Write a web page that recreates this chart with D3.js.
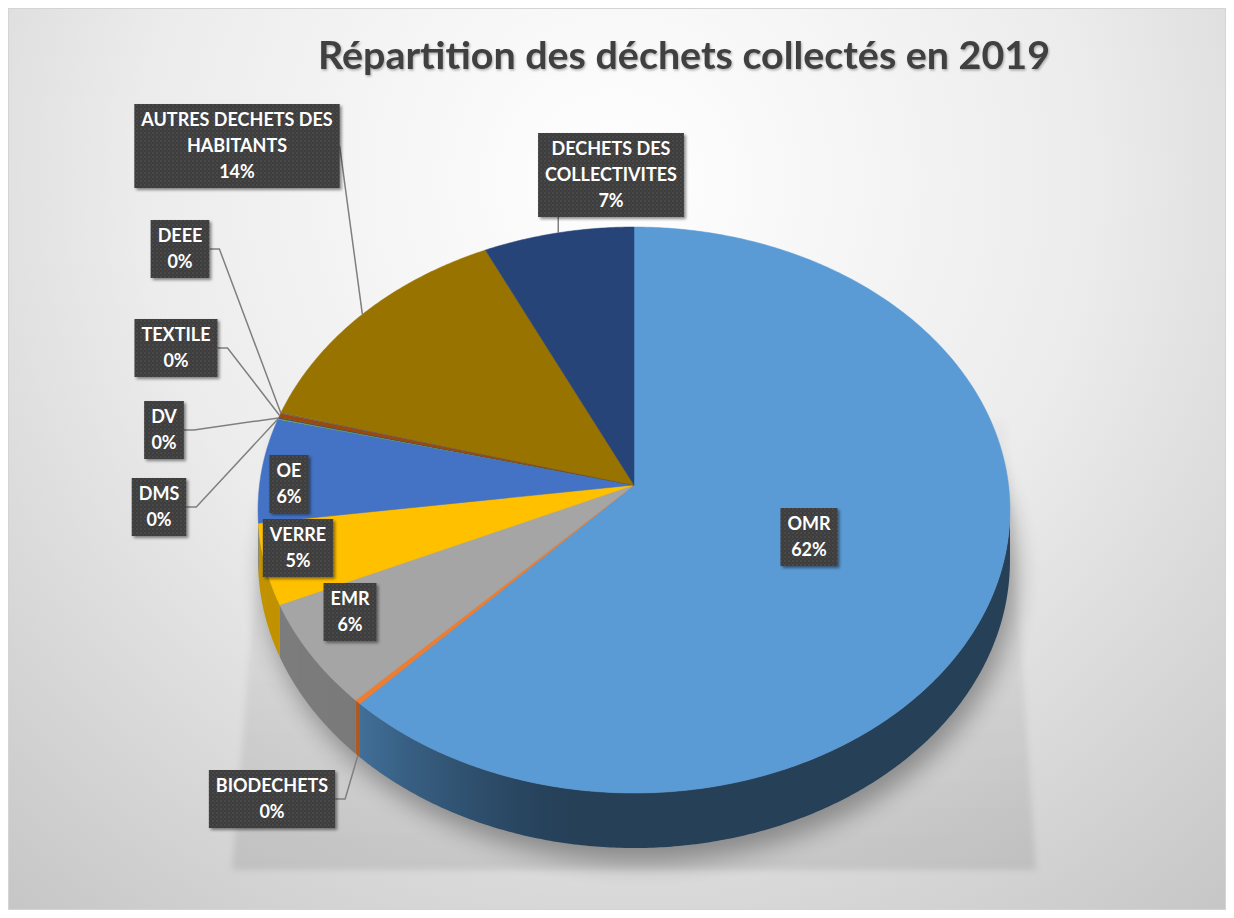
<!DOCTYPE html>
<html>
<head>
<meta charset="utf-8">
<script src="https://cdn.jsdelivr.net/npm/d3@7"></script>
<style>
  body { margin: 0; background: #fff; }
  svg { display: block; }
</style>
</head>
<body>
<svg id="chart" width="1234" height="918"></svg>
<script>
    // data (percent of tonnage)
    var categories = ["OMR", "BIODECHETS", "EMR", "VERRE", "OE", "DMS", "DV", "TEXTILE", "DEEE",
                      "AUTRES DECHETS DES HABITANTS", "DECHETS DES COLLECTIVITES"];
    var values = [62.0, 0.25, 6.0, 4.6, 6.0, 0.05, 0.05, 0.25, 0.05, 13.7, 7.05];
    var colors = ["#5b9bd5", "#ed7d31", "#a5a5a5", "#ffc000", "#4472c4", "#70ad47",
                  "#264478", "#9e480e", "#636363", "#997300", "#264478"];
    var title = "Répartition des déchets collectés en 2019";

    // label placement (box centre), leader side
    var labelLayout = {
        "OMR": { x: 809, y: 537 },
        "BIODECHETS": { x: 272, y: 799, side: "right", anchor: "wall" },
        "EMR": { x: 350, y: 612 },
        "VERRE": { x: 298, y: 548 },
        "OE": { x: 289, y: 484 },
        "DMS": { x: 159, y: 507, side: "right" },
        "DV": { x: 164, y: 430, side: "right" },
        "TEXTILE": { x: 176, y: 348, side: "right" },
        "DEEE": { x: 180, y: 249, side: "right" },
        "AUTRES DECHETS DES HABITANTS": { x: 237, y: 146, side: "right", stub: 0 },
        "DECHETS DES COLLECTIVITES": { x: 611, y: 175, side: "bottom" }
    };

    var W = 1234, H = 918;
    var cx = 634, cy = 485, rx = 374.5, ry = 280.8, persp = 0.0884, depth = 55;

    var svg = d3.select("#chart");
    var defs = svg.append("defs");

    var bg = defs.append("radialGradient").attr("id", "bg")
        .attr("gradientUnits", "userSpaceOnUse")
        .attr("cx", 617).attr("cy", 180).attr("r", 950);
    bg.append("stop").attr("offset", "0").attr("stop-color", "#ffffff");
    bg.append("stop").attr("offset", "0.5").attr("stop-color", "#ececec");
    bg.append("stop").attr("offset", "1").attr("stop-color", "#c6c6c6");

    var sg = defs.append("linearGradient").attr("id", "shadeGrad")
        .attr("x1", 0).attr("y1", 0).attr("x2", 0).attr("y2", 1);
    sg.append("stop").attr("offset", "0").attr("stop-color", "#000").attr("stop-opacity", 0.02);
    sg.append("stop").attr("offset", "1").attr("stop-color", "#000").attr("stop-opacity", 0.09);

    defs.append("filter").attr("id", "blurBig").attr("x", "-20%").attr("y", "-20%")
        .attr("width", "140%").attr("height", "140%")
        .append("feGaussianBlur").attr("stdDeviation", 12);
    defs.append("filter").attr("id", "blurSmall")
        .append("feGaussianBlur").attr("stdDeviation", 3);
    defs.append("filter").attr("id", "boxShadow").attr("x", "-20%").attr("y", "-20%")
        .attr("width", "150%").attr("height", "150%")
        .append("feDropShadow").attr("dx", 2).attr("dy", 2).attr("stdDeviation", 1.5)
        .attr("flood-color", "#000").attr("flood-opacity", 0.45);
    defs.append("filter").attr("id", "titleShadow")
        .append("feDropShadow").attr("dx", 1).attr("dy", 1.5).attr("stdDeviation", 1)
        .attr("flood-color", "#000").attr("flood-opacity", 0.3);

    var pat = defs.append("pattern").attr("id", "dots").attr("patternUnits", "userSpaceOnUse")
        .attr("width", 4).attr("height", 4);
    pat.append("rect").attr("width", 4).attr("height", 4).attr("fill", "#3d3d3d");
    pat.append("circle").attr("cx", 1).attr("cy", 1).attr("r", 0.8).attr("fill", "#555");
    pat.append("circle").attr("cx", 3).attr("cy", 3).attr("r", 0.8).attr("fill", "#4b4b4b");

    // chart area
    svg.append("rect").attr("x", 8.5).attr("y", 8.5).attr("width", 1217).attr("height", 901)
        .attr("fill", "url(#bg)").attr("stroke", "#d4d4d4");

    // projection of a point of the disc: theta clockwise from 12 o'clock
    function proj(theta, r, drop) {
        var u = Math.sin(theta) * r, v = Math.cos(theta) * r;
        var s = 1 / (1 + persp * v);
        return [cx + rx * u * s, cy - ry * v * s + (drop || 0) * s * (1 - persp)];
    }

    var pie = d3.pie().sort(null).value(function (d) { return d.value; });
    var data = categories.map(function (c, i) { return { name: c, value: values[i], color: colors[i] }; });
    var arcs = pie(data);
    var total = d3.sum(values);

    var line = d3.line();

    // shadows on the floor
    svg.append("path")
        .attr("d", line([[268, 420], [1006, 420], [1036, 870], [232, 870]]) + "Z")
        .attr("fill", "url(#shadeGrad)")
        .attr("filter", "url(#blurSmall)");

    var ring = d3.range(0, 361, 2).map(function (a) { return proj(a * Math.PI / 180, 1, depth); });
    svg.append("path")
        .attr("d", line(ring) + "Z")
        .attr("transform", "translate(6,14)")
        .attr("fill", "#000").attr("opacity", 0.32)
        .attr("filter", "url(#blurBig)");

    // outer wall, only the part facing the viewer (cos(theta) < -persp)
    var shade = d3.scaleLinear().domain([90, 190, 225, 280]).range([2.5, 2.5, 0.85, 0.7]).clamp(true);
    var visA = Math.PI - Math.acos(persp), visB = Math.PI + Math.acos(persp);
    var walls = svg.append("g");
    arcs.forEach(function (a, i) {
        var ta = Math.max(a.startAngle, visA), tb = Math.min(a.endAngle, visB);
        if (tb <= ta) return;
        var n = Math.max(2, Math.ceil((tb - ta) / (Math.PI / 360)));
        var ts = d3.range(n + 1).map(function (k) { return ta + (tb - ta) * k / n; });
        var topPts = ts.map(function (t) { return proj(t, 1, 0); });
        var botPts = ts.map(function (t) { return proj(t, 1, depth); }).reverse();
        var xs = topPts.map(function (p) { return p[0]; });
        var x0 = d3.min(xs), x1 = d3.max(xs);
        var gid = "wall" + i;
        var grad = defs.append("linearGradient").attr("id", gid)
            .attr("gradientUnits", "userSpaceOnUse")
            .attr("x1", x0).attr("y1", 0).attr("x2", x1 > x0 ? x1 : x0 + 1).attr("y2", 0);
        var m = Math.min(n, 40);
        d3.range(m + 1).forEach(function (k) {
            var t = ta + (tb - ta) * k / m;
            var px = proj(t, 1, 0)[0];
            grad.append("stop")
                .attr("offset", x1 > x0 ? (px - x0) / (x1 - x0) : 0)
                .attr("stop-color", d3.color(a.data.color).darker(shade(t * 180 / Math.PI)).formatHex());
        });
        // stops must be ascending in offset
        var stops = grad.selectAll("stop").nodes();
        stops.sort(function (p, q) { return +p.getAttribute("offset") - +q.getAttribute("offset"); })
            .forEach(function (s) { grad.node().appendChild(s); });
        walls.append("path")
            .attr("d", line(topPts.concat(botPts)) + "Z")
            .attr("fill", "url(#" + gid + ")");
    });

    // top faces
    var tops = svg.append("g");
    arcs.forEach(function (a) {
        var n = Math.max(2, Math.ceil((a.endAngle - a.startAngle) / (Math.PI / 360)));
        var pts = [proj(0, 0, 0)];
        for (var k = 0; k <= n; k++) {
            pts.push(proj(a.startAngle + (a.endAngle - a.startAngle) * k / n, 1, 0));
        }
        tops.append("path")
            .attr("d", line(pts) + "Z")
            .attr("fill", a.data.color)
            .attr("stroke", a.data.color).attr("stroke-width", 0.5);
    });

    // title
    svg.append("text")
        .attr("x", 684).attr("y", 69)
        .attr("text-anchor", "middle")
        .attr("font-family", "Lato, 'Open Sans', sans-serif")
        .attr("font-weight", 700)
        .attr("font-size", 38)
        .attr("textLength", 732).attr("lengthAdjust", "spacingAndGlyphs")
        .attr("fill", "#404040")
        .attr("filter", "url(#titleShadow)")
        .text(title);

    // data labels
    var fontSize = 18, lineH = 26, pad = 7, maxW = 215;
    var meas = svg.append("text").attr("font-family", "Lato, sans-serif")
        .attr("font-weight", 700).attr("font-size", fontSize);
    function textW(s) { meas.text(s); return meas.node().getComputedTextLength(); }
    function wrap(s) {
        var words = s.split(" "), out = [], cur = "";
        words.forEach(function (w) {
            var t = cur ? cur + " " + w : w;
            if (cur && textW(t) > maxW) { out.push(cur); cur = w; } else cur = t;
        });
        out.push(cur);
        return out;
    }

    var leaders = svg.append("g");
    var labels = svg.append("g");
    arcs.forEach(function (a) {
        var lay = labelLayout[a.data.name];
        var lines = wrap(a.data.name);
        lines.push(Math.round(a.data.value / total * 100) + "%");
        var w = d3.max(lines, textW) + pad * 2;
        var h = lines.length * lineH + 6;
        var x0 = lay.x - w / 2, y0 = lay.y - h / 2;

        if (lay.side) {
            var mid = (a.startAngle + a.endAngle) / 2;
            var end = proj(mid, 1, lay.anchor === "wall" ? depth : 0);
            var pts;
            if (lay.side === "bottom") {
                pts = [[end[0], y0 + h], end];
            } else {
                var stub = lay.stub === undefined ? 10 : lay.stub;
                pts = [[x0 + w, lay.y], [x0 + w + stub, lay.y], end];
            }
            leaders.append("path").attr("d", line(pts))
                .attr("fill", "none").attr("stroke", "#7f7f7f").attr("stroke-width", 1.5);
        }

        var g = labels.append("g");
        g.append("rect").attr("x", x0).attr("y", y0).attr("width", w).attr("height", h)
            .attr("fill", "url(#dots)").attr("filter", "url(#boxShadow)");
        g.selectAll("text").data(lines).enter().append("text")
            .attr("x", lay.x)
            .attr("y", function (d, i) { return y0 + 3 + lineH * i + lineH / 2; })
            .attr("dy", "0.36em")
            .attr("text-anchor", "middle")
            .attr("font-family", "Lato, sans-serif")
            .attr("font-weight", 700)
            .attr("font-size", fontSize)
            .attr("fill", "#ffffff")
            .text(function (d) { return d; });
    });
    meas.remove();
</script>
</body>
</html>
